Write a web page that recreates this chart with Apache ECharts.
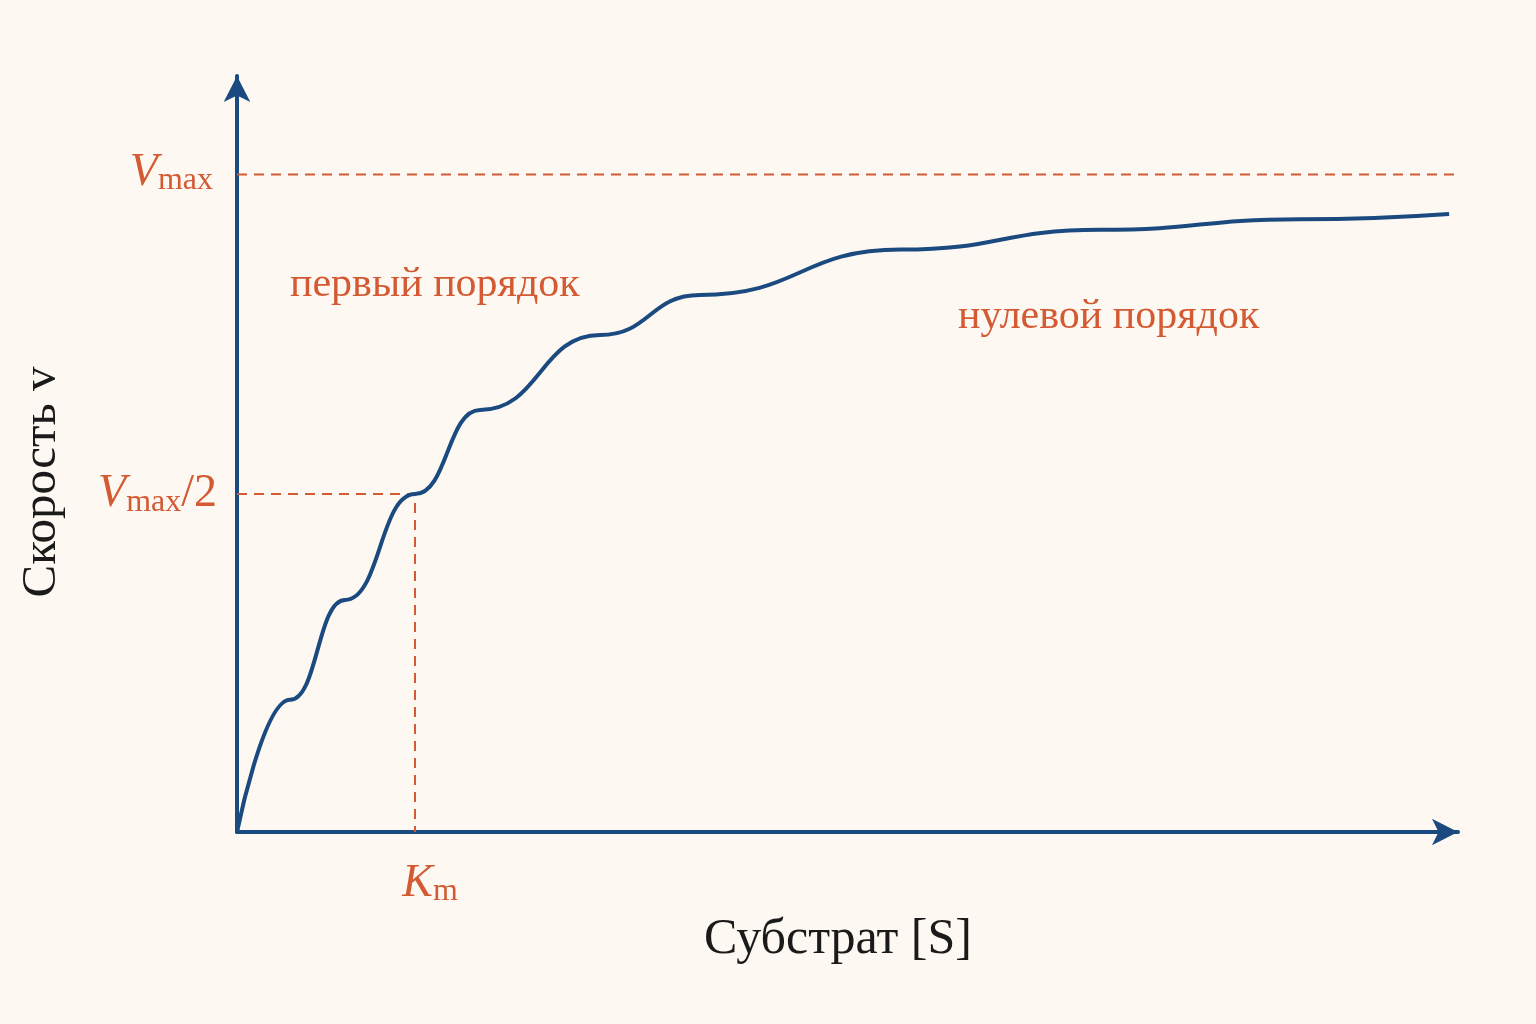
<!DOCTYPE html>
<html><head><meta charset="utf-8">
<script src="https://cdn.jsdelivr.net/npm/echarts@6/dist/echarts.min.js"></script>
<style>html,body{margin:0;background:#fdf9f2}#c{width:1536px;height:1024px}</style>
</head><body><div id="c"></div>
<script>
// substrate [S] in units of Km, velocity in units of Vmax
const curveS = [0, 0.298, 0.607, 1, 1.365, 2.04, 2.6, 3.73, 4.85, 5.97, 6.81];
const curveV = [0, 0.201, 0.353, 0.514, 0.642, 0.756, 0.817, 0.886, 0.916, 0.932, 0.94];
const vmax = 1, halfV = 0.514, km = 1, xMax = 6.86, yMax = 1.15;
const blue = '#1b4a80', orange = '#d35a33';
const chart = echarts.init(document.getElementById('c'));
chart.setOption({
  backgroundColor: '#fdf9f2',
  animation: false,
  grid: {left: 237, right: 78, top: 76, bottom: 192},
  xAxis: {type: 'value', min: 0, max: xMax, axisLine: {lineStyle: {color: blue, width: 4}, symbol: ['none', 'arrow'], symbolSize: [20, 26]},
    axisTick: {show: false}, axisLabel: {show: false}, splitLine: {show: false}},
  yAxis: {type: 'value', min: 0, max: yMax, axisLine: {show: true, lineStyle: {color: blue, width: 4}, symbol: ['none', 'arrow'], symbolSize: [20, 26]},
    axisTick: {show: false}, axisLabel: {show: false}, splitLine: {show: false}},
  series: [
    {type: 'line', data: [[0, vmax], [xMax, vmax]], symbol: 'none', lineStyle: {color: orange, width: 2, type: [10, 7]}},
    {type: 'line', data: [[0, halfV], [km, halfV], [km, 0]], symbol: 'none', lineStyle: {color: orange, width: 2, type: [10, 7]}},
    {type: 'line', data: curveS.map((s, i) => [s, curveV[i]]), smooth: 0.5, smoothMonotone: 'x', symbol: 'none', lineStyle: {color: blue, width: 4}}
  ]
});
const p = (x, y) => chart.convertToPixel({gridIndex: 0}, [x, y]);
const pv = p(0, vmax), ph = p(0, halfV), pk = p(km, 0);
const font = '"Liberation Serif", "DejaVu Serif", serif';
const rich = {v: {fontFamily: font, fontStyle: 'italic', fontSize: 46, fill: orange}, s: {fontFamily: font, fontSize: 32, fill: orange, padding: [16, 0, 0, 0]}, n: {fontFamily: font, fontSize: 46, fill: orange}};
chart.setOption({graphic: [
  {type: 'text', x: pv[0] - 24, y: pv[1] - 2, style: {text: '{v|V}{s|max}', rich, align: 'right', verticalAlign: 'middle'}},
  {type: 'text', x: ph[0] - 20, y: ph[1], style: {text: '{v|V}{s|max}{n|/2}', rich, align: 'right', verticalAlign: 'middle'}},
  {type: 'text', x: pk[0] + 15, y: pk[1] + 52, style: {text: '{v|K}{s|m}', rich, align: 'center', verticalAlign: 'middle'}},
  {type: 'text', x: 290, y: 285, style: {text: 'первый порядок', font: '42px ' + font, fill: orange, verticalAlign: 'middle'}},
  {type: 'text', x: 958, y: 317, style: {text: 'нулевой порядок', font: '42px ' + font, fill: orange, verticalAlign: 'middle'}},
  {type: 'text', x: 838, y: 940, style: {text: 'Субстрат [S]', font: '50px ' + font, fill: '#1a1a1a', align: 'center', verticalAlign: 'middle'}},
  {type: 'text', x: 42, y: 482, rotation: Math.PI / 2, style: {text: 'Скорость v', font: '49px ' + font, fill: '#1a1a1a', align: 'center', verticalAlign: 'middle'}}
]});
</script></body></html>
